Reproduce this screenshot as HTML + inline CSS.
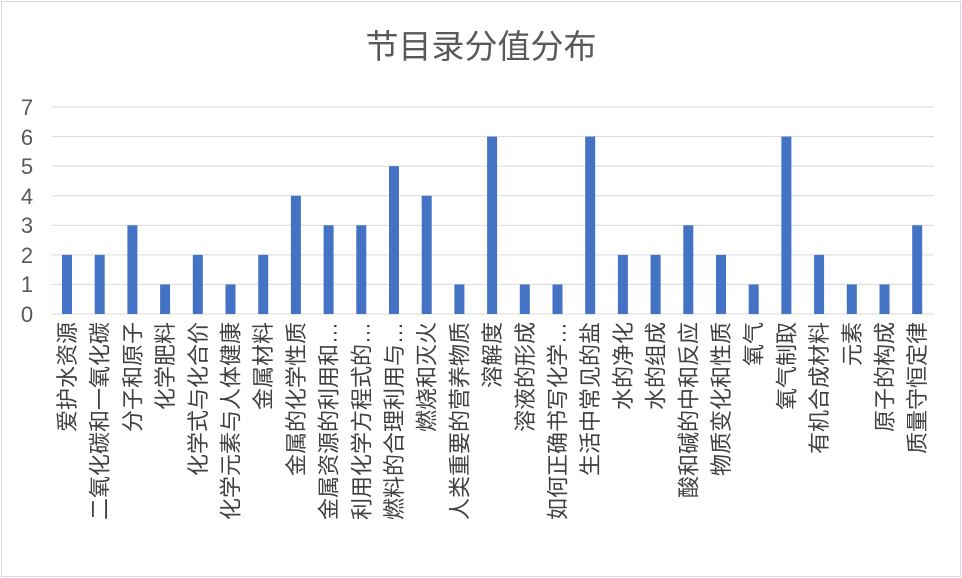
<!DOCTYPE html>
<html><head><meta charset="utf-8"><style>
body{margin:0;background:#fff}
svg{display:block}
text{font-family:"Liberation Sans","Noto Sans CJK SC",sans-serif}
</style></head><body>
<svg width="962" height="578" viewBox="0 0 962 578">
<rect x="1.5" y="1.5" width="959" height="575" fill="#fff" stroke="#d9d9d9"/>
<text x="481" y="58" font-size="33" text-anchor="middle" fill="#595959">节目录分值分布</text>
<g stroke="#d9d9d9" stroke-width="1">
<line x1="52" x2="934" y1="107" y2="107"/><line x1="52" x2="934" y1="136.6" y2="136.6"/>
<line x1="52" x2="934" y1="166.1" y2="166.1"/><line x1="52" x2="934" y1="195.7" y2="195.7"/>
<line x1="52" x2="934" y1="225.3" y2="225.3"/><line x1="52" x2="934" y1="254.9" y2="254.9"/>
<line x1="52" x2="934" y1="284.4" y2="284.4"/><line x1="52" x2="934" y1="314" y2="314"/>
</g>
<g font-size="22" fill="#595959" text-anchor="middle">
<text x="27" y="322">0</text><text x="27" y="292">1</text><text x="27" y="263">2</text><text x="27" y="233">3</text><text x="27" y="204">4</text><text x="27" y="174">5</text><text x="27" y="145">6</text><text x="27" y="115">7</text>
</g>
<g id="bars" fill="#4472c4"></g>
<g id="labels" font-size="22" fill="#404040"></g>
</svg>
<script>
var v=[2,2,3,1,2,1,2,4,3,3,5,4,1,6,1,1,6,2,2,3,2,1,6,2,1,1,3];
var l=["爱护水资源","二氧化碳和一氧化碳","分子和原子","化学肥料","化学式与化合价","化学元素与人体健康","金属材料","金属的化学性质","金属资源的利用和…","利用化学方程式的…","燃料的合理利用与…","燃烧和灭火","人类重要的营养物质","溶解度","溶液的形成","如何正确书写化学…","生活中常见的盐","水的净化","水的组成","酸和碱的中和反应","物质变化和性质","氧气","氧气制取","有机合成材料","元素","原子的构成","质量守恒定律"];
var ns="http://www.w3.org/2000/svg",b=document.getElementById("bars"),g=document.getElementById("labels");
for(var i=0;i<v.length;i++){var c=67+i*32.7,h=v[i]*29.57;
var r=document.createElementNS(ns,"rect");r.setAttribute("x",c-5);r.setAttribute("y",314-h);r.setAttribute("width",10);r.setAttribute("height",h);b.appendChild(r);
var t=document.createElementNS(ns,"text");t.setAttribute("transform","translate("+(c+8)+",322) rotate(-90)");t.setAttribute("text-anchor","end");t.textContent=l[i];g.appendChild(t);}
</script>
</body></html>
